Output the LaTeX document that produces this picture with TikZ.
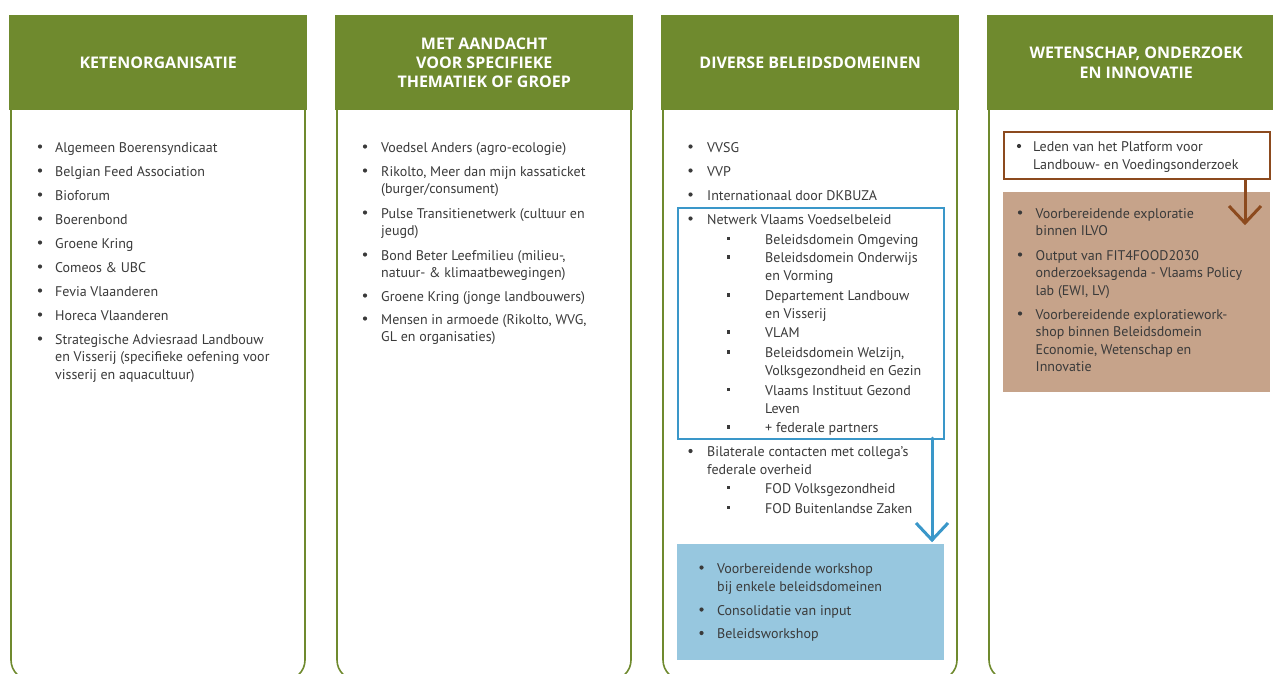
\documentclass[tikz,border=0pt]{standalone}
\usepackage{fontspec}
\usetikzlibrary{calc}
\setmainfont{PT Sans}
\newfontfamily\hdrfont{Open Sans}
\definecolor{hdr}{HTML}{6F8A2E}
\definecolor{txt}{HTML}{3A3A3A}
\definecolor{bl}{HTML}{3A97C9}
\definecolor{blfill}{HTML}{97C7DF}
\definecolor{br}{HTML}{8C4A1E}
\definecolor{brfill}{HTML}{C6A38A}
\newcommand\ml[1]{\begin{tabular}[t]{@{}l@{}}#1\end{tabular}}
\newcommand\bul[2]{\fill[txt] (#1,#2-5.5) circle[radius=2.1pt];}
\newcommand\sq[2]{\fill[txt] (#1-1.6,#2-7.1) rectangle (#1+1.6,#2-3.9);}
\begin{document}
\begin{tikzpicture}[x=1pt,y=-1pt,
  hdrbox/.style={fill=hdr, draw=none, inner sep=0pt, minimum width=298pt, minimum height=95pt, anchor=north west, text=white, font=\hdrfont\bfseries\fontsize{16}{19.2}\selectfont, align=center},
  colline/.style={draw=hdr, line width=1.6pt, rounded corners=20pt},
  itm/.style={anchor=base west, inner sep=0pt, text=txt, font=\fontsize{14}{17.5}\selectfont},
  itmb/.style={itm, font=\fontsize{14}{18}\selectfont},
  plainbox/.style={inner sep=0pt, anchor=north west},
  conn/.style={line width=3pt, line cap=round, line join=miter}
]
\clip (0,0) rectangle (1273,673);
\useasboundingbox (0,0) rectangle (1273,673);
\fill[white] (0,0) rectangle (1273,673);

% column outlines
\draw[colline] (11,100) -- (11,680) -- (305,680) -- (305,100);
\draw[colline] (337,100) -- (337,680) -- (631,680) -- (631,100);
\draw[colline] (663,100) -- (663,680) -- (957,680) -- (957,100);
\draw[colline] (989,100) -- (989,680) -- (1283,680) -- (1283,100);

% headers
\node[hdrbox] (h1) at (9,15) {KETENORGANISATIE};
\node[hdrbox] (h2) at (335,15) {MET AANDACHT\\VOOR SPECIFIEKE\\THEMATIEK OF GROEP};
\node[hdrbox] (h3) at (661,15) {DIVERSE BELEIDSDOMEINEN};
\node[hdrbox] (h4) at (987,15) {WETENSCHAP, ONDERZOEK\\EN INNOVATIE};

% column 1
\bul{40}{152}\node[itm] (a1) at (55,152) {Algemeen Boerensyndicaat};
\bul{40}{176}\node[itm] (a2) at (55,176) {Belgian Feed Association};
\bul{40}{200}\node[itm] (a3) at (55,200) {Bioforum};
\bul{40}{224}\node[itm] (a4) at (55,224) {Boerenbond};
\bul{40}{248}\node[itm] (a5) at (55,248) {Groene Kring};
\bul{40}{272}\node[itm] (a6) at (55,272) {Comeos \& UBC};
\bul{40}{296}\node[itm] (a7) at (55,296) {Fevia Vlaanderen};
\bul{40}{320}\node[itm] (a8) at (55,320) {Horeca Vlaanderen};
\bul{40}{344}\node[itm] (a9) at (55,344) {\ml{Strategische Adviesraad Landbouw\\en Visserij (specifieke oefening voor\\visserij en aquacultuur)}};

% column 2
\bul{365}{152}\node[itm] (b1) at (381,152) {Voedsel Anders (agro-ecologie)};
\bul{365}{176}\node[itm] (b2) at (381,176) {\ml{Rikolto, Meer dan mijn kassaticket\\(burger/consument)}};
\bul{365}{218}\node[itm] (b3) at (381,218) {\ml{Pulse Transitienetwerk (cultuur en\\jeugd)}};
\bul{365}{260}\node[itm] (b4) at (381,260) {\ml{Bond Beter Leefmilieu (milieu-,\\natuur- \& klimaatbewegingen)}};
\bul{365}{301}\node[itm] (b5) at (381,301) {Groene Kring (jonge landbouwers)};
\bul{365}{324}\node[itm] (b6) at (381,324) {\ml{Mensen in armoede (Rikolto, WVG,\\GL en organisaties)}};

% column 3
\node[plainbox, draw=bl, line width=2pt, minimum width=266pt, minimum height=231pt] (net) at (677,207) {};
\bul{690.5}{152}\node[itm] (c1) at (707,152) {VVSG};
\bul{690.5}{176}\node[itm] (c2) at (707,176) {VVP};
\bul{690.5}{200}\node[itm] (c3) at (707,200) {Internationaal door DKBUZA};
\bul{690.5}{224}\node[itm] (c4) at (707,224) {Netwerk Vlaams Voedselbeleid};
\sq{728.5}{244}\node[itmb] (s1) at (765,244) {Beleidsdomein Omgeving};
\sq{728.5}{262.5}\node[itmb] (s2) at (765,262.5) {\ml{Beleidsdomein Onderwijs\\en Vorming}};
\sq{728.5}{300.5}\node[itmb] (s3) at (765,300.5) {\ml{Departement Landbouw\\en Visserij}};
\sq{728.5}{337.5}\node[itmb] (s4) at (765,337.5) {VLAM};
\sq{728.5}{357.5}\node[itmb] (s5) at (765,357.5) {\ml{Beleidsdomein Welzijn,\\Volksgezondheid en Gezin}};
\sq{728.5}{395}\node[itmb] (s6) at (765,395) {\ml{Vlaams Instituut Gezond\\Leven}};
\sq{728.5}{432.5}\node[itmb] (s7) at (765,432.5) {+ federale partners};
\bul{690.5}{456.5}\node[itm] (c5) at (707,456.5) {\ml{Bilaterale contacten met collega’s\\federale overheid}};
\sq{728.5}{493}\node[itmb] (s8) at (765,493) {FOD Volksgezondheid};
\sq{728.5}{513}\node[itmb] (s9) at (765,513) {FOD Buitenlandse Zaken};

\node[plainbox, fill=blfill, minimum width=267pt, minimum height=116pt] (ws) at (677,544) {};
\coordinate (ba1) at (932,438);
\coordinate (ba2) at (932,540);
\draw[conn, draw=bl] (ba1) -- (ba2);
\draw[conn, draw=bl, line cap=butt] ($(ba2)+(-16,-17)$) -- (ba2) -- ($(ba2)+(16,-17)$);
\bul{701.5}{573}\node[itmb] (w1) at (717,573) {\ml{Voorbereidende workshop\\bij enkele beleidsdomeinen}};
\bul{701.5}{615}\node[itm] (w2) at (717,615) {Consolidatie van input};
\bul{701.5}{638.5}\node[itm] (w3) at (717,638.5) {Beleidsworkshop};

% column 4
\node[plainbox, draw=br, line width=2pt, minimum width=266pt, minimum height=47pt] (plat) at (1003,131) {};
\bul{1019}{151.5}\node[itmb] (d1) at (1033,151.5) {\ml{Leden van het Platform voor\\Landbouw- en Voedingsonderzoek}};
\node[plainbox, fill=brfill, minimum width=267pt, minimum height=200pt] (expl) at (1003,192) {};
\coordinate (bb1) at (1245,178);
\coordinate (bb2) at (1245,223);
\draw[conn, draw=br, line cap=butt] (bb1) -- (bb2);
\draw[conn, draw=br, line cap=butt] ($(bb2)+(-16,-17)$) -- (bb2) -- ($(bb2)+(16,-17)$);
\bul{1020}{218}\node[itm] (e1) at (1035.5,218) {\ml{Voorbereidende exploratie\\binnen ILVO}};
\bul{1020}{260}\node[itm] (e2) at (1035.5,260) {\ml{Output van FIT4FOOD2030\\onderzoeksagenda - Vlaams Policy\\lab (EWI, LV)}};
\bul{1020}{319}\node[itm] (e3) at (1035.5,319) {\ml{Voorbereidende exploratiework-\\shop binnen Beleidsdomein\\Economie, Wetenschap en\\Innovatie}};
\end{tikzpicture}
\end{document}
